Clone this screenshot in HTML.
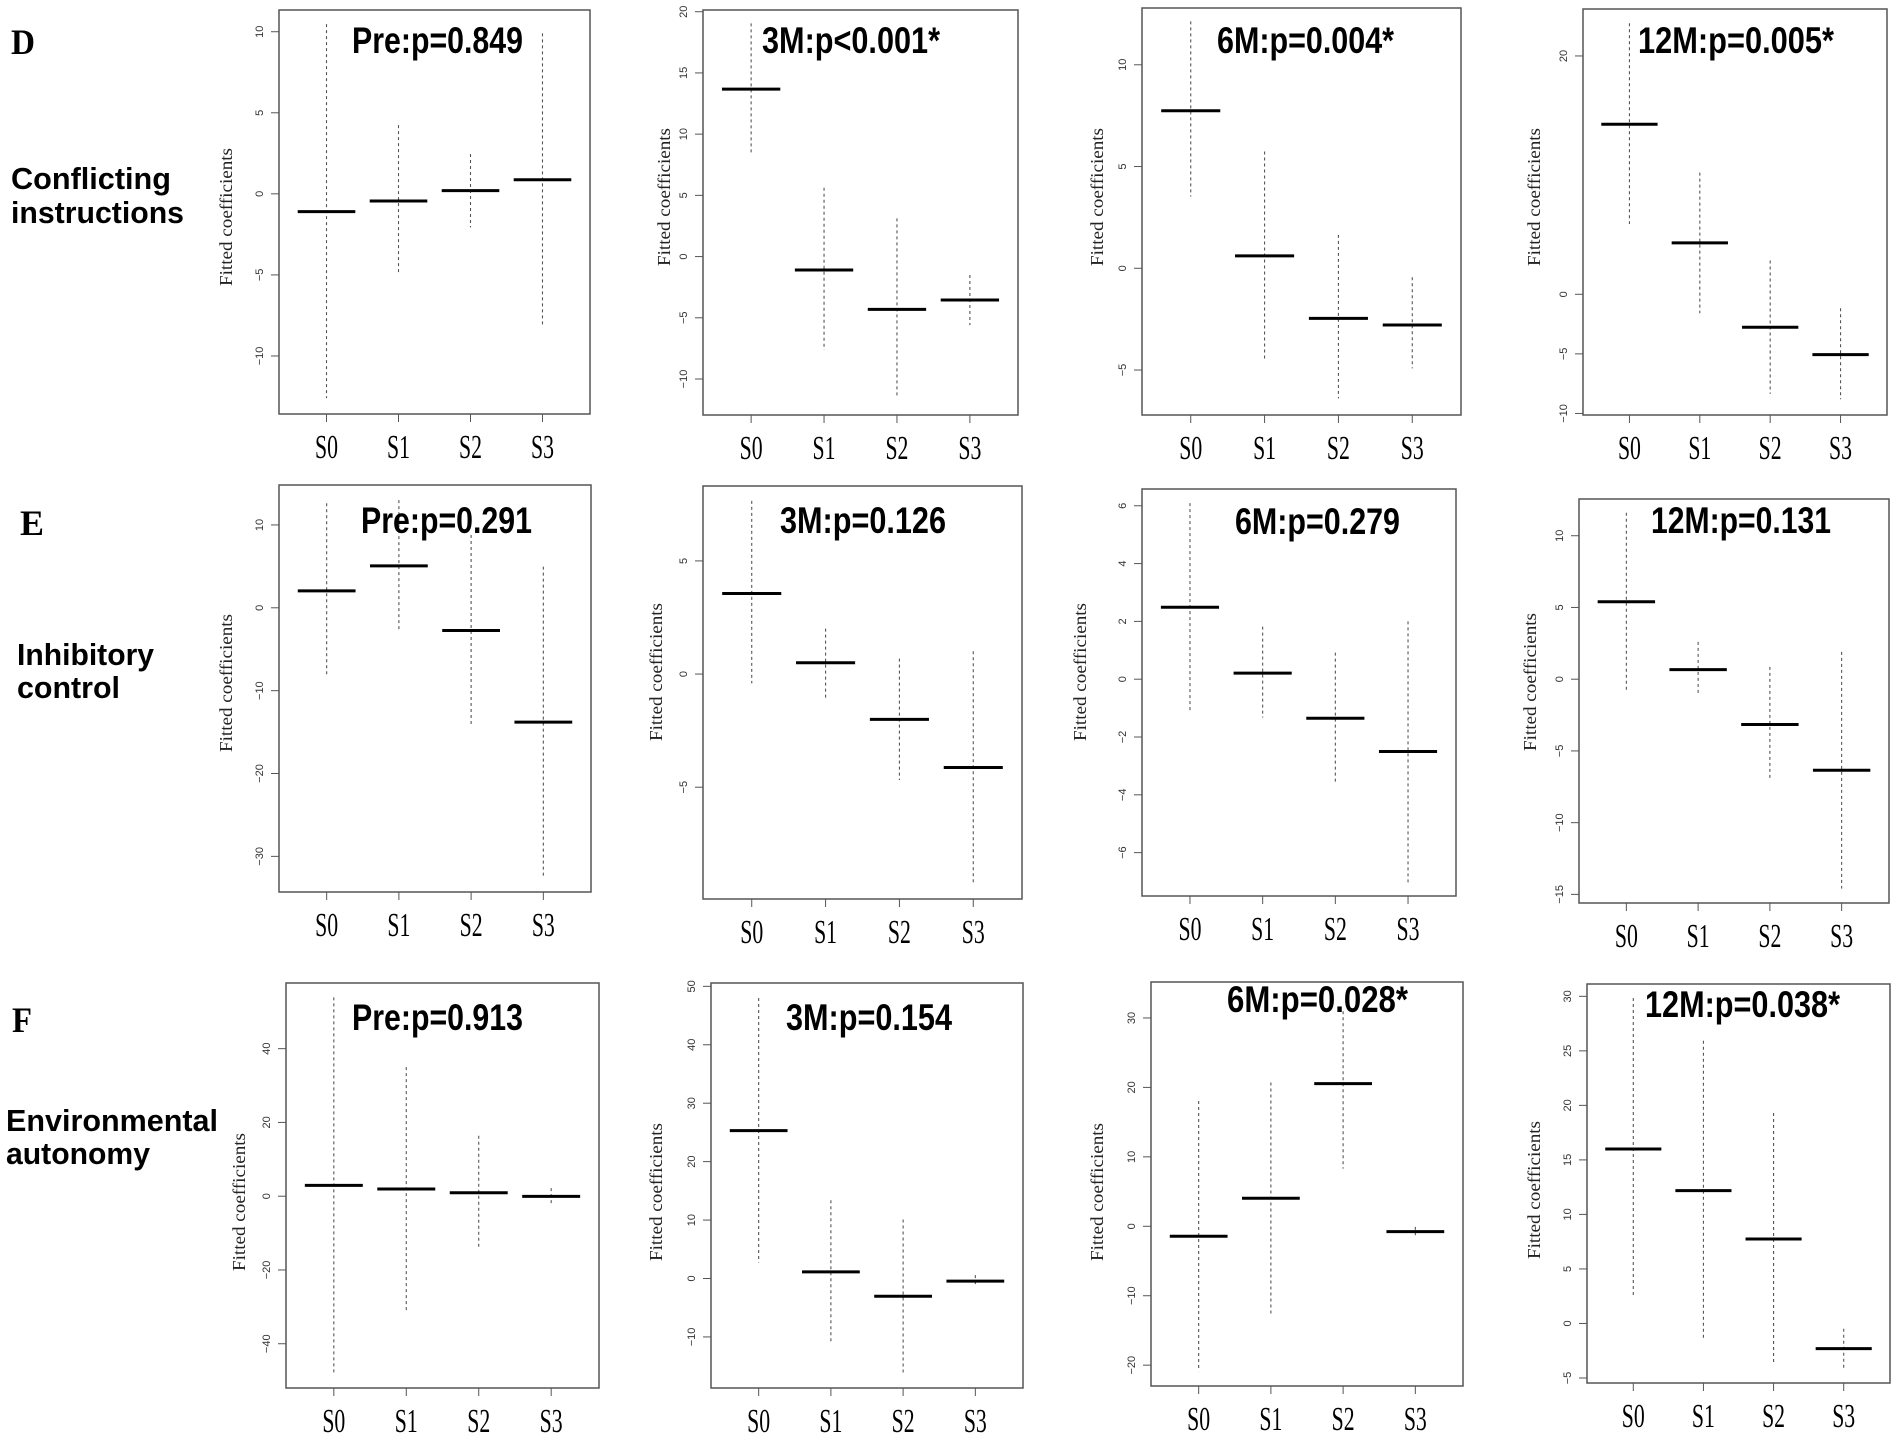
<!DOCTYPE html>
<html><head><meta charset="utf-8">
<style>
html,body{margin:0;padding:0;background:#fff;}
svg{display:block;}
</style></head>
<body>
<svg id="fig" width="1902" height="1435" viewBox="0 0 1902 1435" xmlns="http://www.w3.org/2000/svg">
<rect x="0" y="0" width="1902" height="1435" fill="#fff"/>
<g font-family="'Liberation Serif', serif" font-weight="bold" font-size="36" fill="#000">
<text x="11" y="54" textLength="24" lengthAdjust="spacingAndGlyphs">D</text>
<text x="20" y="535" textLength="24" lengthAdjust="spacingAndGlyphs">E</text>
<text x="12" y="1032" textLength="20" lengthAdjust="spacingAndGlyphs">F</text>
</g>
<g font-family="'Liberation Sans', sans-serif" font-weight="bold" font-size="31" fill="#000">
<text x="11" y="189" textLength="160" lengthAdjust="spacingAndGlyphs">Conflicting</text>
<text x="11" y="223" textLength="173" lengthAdjust="spacingAndGlyphs">instructions</text>
<text x="17" y="665" textLength="137" lengthAdjust="spacingAndGlyphs">Inhibitory</text>
<text x="17" y="698" textLength="103" lengthAdjust="spacingAndGlyphs">control</text>
<text x="6" y="1131" textLength="212" lengthAdjust="spacingAndGlyphs">Environmental</text>
<text x="6" y="1164" textLength="144" lengthAdjust="spacingAndGlyphs">autonomy</text>
</g>
</svg>
<script>
// ---- data ----
const categories = ["S0","S1","S2","S3"];
const titles = [
  ["Pre:p=0.849","3M:p<0.001*","6M:p=0.004*","12M:p=0.005*"],
  ["Pre:p=0.291","3M:p=0.126","6M:p=0.279","12M:p=0.131"],
  ["Pre:p=0.913","3M:p=0.154","6M:p=0.028*","12M:p=0.038*"]
];
// fitted means per panel
const meansD = [[-1.1,-0.44,0.2,0.87],[13.68,-1.1,-4.31,-3.55],[7.74,0.61,-2.46,-2.79],[14.27,4.31,-2.77,-5.06]];
const meansE = [[2.04,5.06,-2.74,-13.8],[3.56,0.5,-2.0,-4.13],[2.49,0.21,-1.35,-2.5],[5.4,0.67,-3.16,-6.35]];
const meansF = [[2.93,1.94,0.94,-0.05],[25.3,1.14,-3.03,-0.46],[-1.43,4.04,20.55,-0.76],[16.0,12.18,7.74,-2.31]];
// upper whisker ends
const upperD = [[10.47,4.24,2.46,9.9],[19.05,5.62,3.12,-1.5],[12.13,5.74,1.64,-0.44],[22.74,10.21,2.83,-1.17]];
const upperE = [[12.61,13.0,8.79,4.97],[7.65,2.01,0.68,1.01],[6.09,1.82,0.92,2.0],[11.6,2.6,0.86,1.9]];
const upperF = [[53.9,35.0,16.4,2.2],[48.0,13.4,10.1,0.57],[18.05,20.7,30.96,-0.09],[29.85,25.93,19.3,-0.48]];
// lower whisker ends
const lowerD = [[-12.6,-5.0,-2.07,-8.1],[8.43,-7.63,-11.58,-5.6],[3.52,-4.48,-6.39,-4.92],[5.9,-1.59,-8.36,-8.81]];
const lowerE = [[-8.37,-2.66,-14.24,-32.5],[-0.41,-1.04,-4.68,-9.24],[-1.08,-1.33,-3.57,-7.03],[-0.81,-1.05,-7.0,-14.6]];
const lowerF = [[-48.0,-31.1,-14.1,-2.5],[2.74,-11.1,-16.3,-1.43],[-20.86,-12.7,8.31,-1.29],[2.33,-1.55,-3.72,-4.15]];
// y tick labels per panel
const ticksD = [[-10,-5,0,5,10],[-10,-5,0,5,10,15,20],[-5,0,5,10],[-10,-5,0,20]];
const ticksE = [[-30,-20,-10,0,10],[-5,0,5],[-6,-4,-2,0,2,4,6],[-15,-10,-5,0,5,10]];
const ticksF = [[-40,-20,0,20,40],[-10,0,10,20,30,40,50],[-20,-10,0,10,20,30],[-5,0,5,10,15,20,25,30]];
// y-axis limits per panel [lo, hi]
const ylimD = [[-13.58,11.34],[-12.94,20.14],[-7.21,12.79],[-10.13,23.94]];
const ylimE = [[-34.3,14.82],[-9.94,8.31],[-7.5,6.58],[-15.6,12.56]];
const ylimF = [[-52.0,57.8],[-18.74,50.57],[-23.0,35.18],[-5.46,31.13]];

// ---- layout (pixel geometry, not data) ----
const boxes = [
  [[279,10,590,414],[703,10,1018,415],[1142,8,1461,415],[1583,9,1887,415]],
  [[279,485,591,892],[703,486,1022,899],[1142,489,1456,896],[1579,499,1889,903]],
  [[286,983,599,1388],[711,983,1023,1388],[1151,982,1463,1386],[1587,984,1890,1383]]
];
const titleGeo = [
  [[352,53,171],[762,53,178],[1217,53,177],[1638,53,196]],
  [[361,533,171],[780,533,166],[1235,534,165],[1651,533,180]],
  [[352,1030,171],[786,1030,166],[1227,1012,181],[1645,1017,195]]
];
const ylabGeo = [
  [[226,217],[664,197],[1097,197],[1534,197]],
  [[226,683],[656,672],[1080,672],[1530,682]],
  [[239,1202],[656,1192],[1097,1192],[1534,1190]]
];
const rowNames = ["d","e","f"];
const meansAll = [meansD, meansE, meansF];
const upperAll = [upperD, upperE, upperF];
const lowerAll = [lowerD, lowerE, lowerF];
const ticksAll = [ticksD, ticksE, ticksF];
const ylimAll = [ylimD, ylimE, ylimF];

const NS = "http://www.w3.org/2000/svg";
const svg = document.getElementById("fig");
function mk(tag, attrs, parent){
  const e = document.createElementNS(NS, tag);
  for (const k in attrs) e.setAttribute(k, attrs[k]);
  (parent||svg).appendChild(e);
  return e;
}

for (let r = 0; r < 3; r++) {
  for (let c = 0; c < 4; c++) {
    const [x0,y0,x1,y1] = boxes[r][c];
    const [lo,hi] = ylimAll[r][c];
    const xScale = i => x0 + (i + 1 - 0.34) * (x1 - x0) / 4.32;
    const yScale = v => y1 - (v - lo) / (hi - lo) * (y1 - y0);
    const g = mk("g", {});
    
    

    for (let i = 0; i < 4; i++) {
      const wl = mk("line", {x1:xScale(i), x2:xScale(i), y1:yScale(upperAll[r][c][i]), y2:yScale(lowerAll[r][c][i]), stroke:"#555", "stroke-width":1.1, "stroke-dasharray":"3,3"}, g);
      
      
    }
    const hw = (x1 - x0) / 4.32 * 0.4;
    for (let i = 0; i < 4; i++) {
      const ml = mk("line", {x1:xScale(i)-hw, x2:xScale(i)+hw, y1:yScale(meansAll[r][c][i]), y2:yScale(meansAll[r][c][i]), stroke:"#000", "stroke-width":3}, g);
      
      
    }
    const bx = mk("rect", {x:x0, y:y0, width:x1-x0, height:y1-y0, fill:"none", stroke:"#555", "stroke-width":1.5}, g);
    
    

    const ty = ticksAll[r][c];
    const ya = mk("line", {x1:x0, x2:x0, y1:yScale(ty[0]), y2:yScale(ty[ty.length-1]), stroke:"#555", "stroke-width":1}, g);
    
    
    for (const t of ty) {
      const yy = yScale(t);
      const tk = mk("line", {x1:x0-8, x2:x0, y1:yy, y2:yy, stroke:"#555", "stroke-width":1}, g);
      
      
      const tl = mk("text", {x:0, y:0, transform:"translate(" + (x0-16) + "," + yy + ") rotate(-90)", "text-anchor":"middle", "font-family":"'Liberation Sans', sans-serif", "font-size":11, fill:"#333"}, g);
      tl.textContent = (t < 0 ? "\u2212" + Math.abs(t) : String(t));
      
      
    }
    const xa = mk("line", {x1:xScale(0), x2:xScale(3), y1:y1, y2:y1, stroke:"#555", "stroke-width":1}, g);
    
    
    for (let i = 0; i < 4; i++) {
      const tk = mk("line", {x1:xScale(i), x2:xScale(i), y1:y1, y2:y1+8, stroke:"#555", "stroke-width":1}, g);
      
      
      const tl = mk("text", {x:xScale(i), y:y1+44, "text-anchor":"middle", "font-family":"'Liberation Serif', serif", "font-size":34, textLength:23, lengthAdjust:"spacingAndGlyphs", fill:"#000"}, g);
      tl.textContent = categories[i];
      
      
    }
    const [lx, ly] = ylabGeo[r][c];
    const yt = mk("text", {x:0, y:0, transform:"translate(" + lx + "," + ly + ") rotate(-90)", "text-anchor":"middle", "dominant-baseline":"central", "font-family":"'Liberation Serif', serif", "font-size":18, textLength:138, lengthAdjust:"spacingAndGlyphs", fill:"#222", stroke:"#fff", "stroke-width":3, "paint-order":"stroke"}, g);
    yt.textContent = "Fitted coefficients";
    
    
    const [tx, tyy, tw] = titleGeo[r][c];
    const pt = mk("text", {x:tx, y:tyy, "font-family":"'Liberation Sans', sans-serif", "font-weight":"bold", "font-size":37, textLength:tw, lengthAdjust:"spacingAndGlyphs", fill:"#000"}, g);
    pt.textContent = titles[r][c];
    
    
  }
}
</script>
</body></html>
